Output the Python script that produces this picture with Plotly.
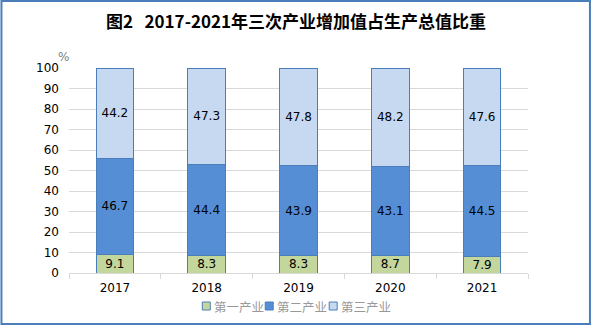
import plotly.graph_objects as go

years = ["2017", "2018", "2019", "2020", "2021"]
primary = [9.1, 8.3, 8.3, 8.7, 7.9]
secondary = [46.7, 44.4, 43.9, 43.1, 44.5]
tertiary = [44.2, 47.3, 47.8, 48.2, 47.6]
names = ["第一产业", "第二产业", "第三产业"]
colors = ["#c3d69b", "#558ed5", "#c6d9f1"]
y_ticks = list(range(0, 101, 10))

W, H = 592, 326
L, R, T, B = 68.6, 64, 68, 53
PW, PH = W - L - R, H - T - B


def px(x):
    return (x - L) / PW


def py(y):
    return (H - B - y) / PH


fig = go.Figure()
for name, vals, col in zip(names, [primary, secondary, tertiary], colors):
    fig.add_trace(go.Bar(
        x=years, y=vals, name=name,
        marker=dict(color=col, line=dict(color="#4a7ebb", width=1)),
        text=[f"{v:.1f}" for v in vals], textposition="inside",
        insidetextanchor="middle", constraintext="none",
        textfont=dict(family="DejaVu Sans", size=12, color="#000000"),
    ))

shapes = [dict(type="rect", xref="paper", yref="paper",
               x0=px(1), x1=px(590), y0=py(324), y1=py(1),
               line=dict(color="#4a7ebb", width=2), layer="above")]
annotations = [dict(text="%", xref="paper", yref="paper", x=px(63.5), y=py(57),
                    xanchor="center", yanchor="middle", showarrow=False,
                    font=dict(family="DejaVu Sans", size=12, color="#7f7f7f"))]

# manual legend
leg_sq_x = [202, 265, 329]
for name, col, sx in zip(names, colors, leg_sq_x):
    shapes.append(dict(type="rect", xref="paper", yref="paper",
                       x0=px(sx), x1=px(sx + 8), y0=py(310), y1=py(302),
                       fillcolor=col, line=dict(color="#4a7ebb", width=1)))
    annotations.append(dict(text=name, xref="paper", yref="paper",
                            x=px(sx + 10), y=py(306), xanchor="left", yanchor="middle",
                            showarrow=False,
                            font=dict(family="Noto Sans CJK SC", size=12.5, color="#999999")))

fig.update_layout(
    barmode="stack", bargap=0.59,
    width=W, height=H, showlegend=False,
    margin=dict(l=L, r=R, t=T, b=B, autoexpand=False),
    paper_bgcolor="white", plot_bgcolor="white",
    title=dict(text="<b>图2   2017-2021年三次产业增加值占生产总值比重</b>",
               x=0.5, xanchor="center", y=1 - 22 / H, yanchor="middle",
               font=dict(family="Noto Sans CJK SC", size=17, color="#000000")),
    shapes=shapes,
    annotations=annotations,
)
fig.update_xaxes(showline=True, linecolor="#d9d9d9", ticks="outside", tickson="boundaries",
                 tickcolor="#d9d9d9", ticklen=5, ticklabelstandoff=4,
                 tickfont=dict(family="DejaVu Sans", size=12, color="#000000"))
fig.update_yaxes(range=[0, 100], tickvals=y_ticks, showgrid=True, gridcolor="#d9d9d9",
                 zeroline=False, ticks="", ticklabelstandoff=9,
                 tickfont=dict(family="DejaVu Sans", size=12, color="#000000"))

fig.write_html("out.html")
